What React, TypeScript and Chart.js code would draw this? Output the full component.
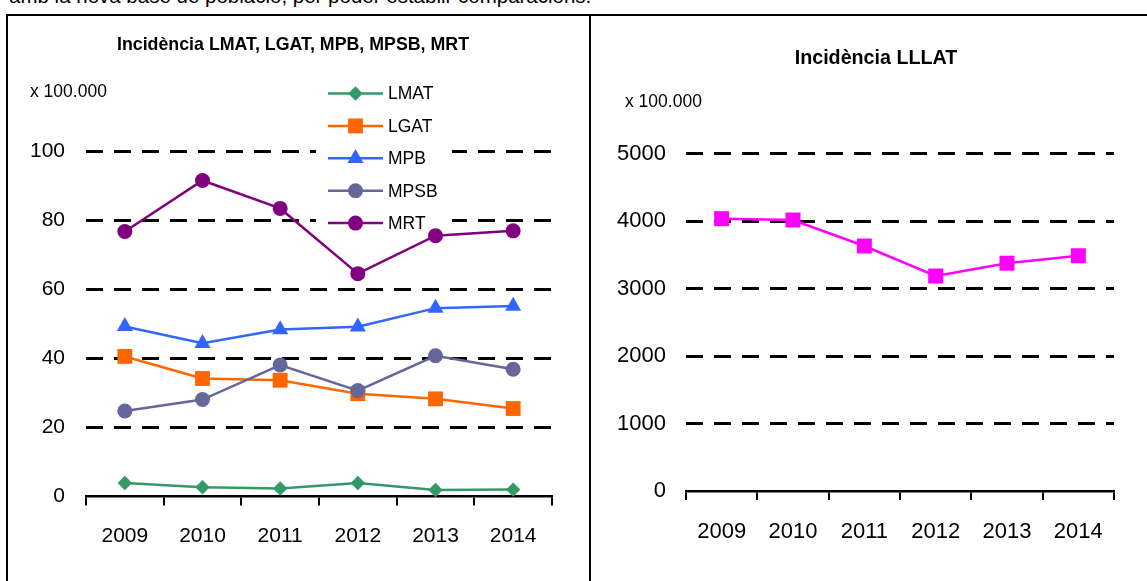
import React, { useEffect, useRef } from 'react';
import { Chart, registerables } from 'chart.js';

Chart.register(...registerables);

const FONT = '"Liberation Sans", Arial, sans-serif';

// ---- data ----
const years = ['2009', '2010', '2011', '2012', '2013', '2014'];
const lmatValues = [3.9, 2.7, 2.3, 3.9, 1.9, 2.0];
const lgatValues = [40.6, 34.2, 33.7, 29.8, 28.3, 25.5];
const mpbValues = [49.3, 44.4, 48.4, 49.2, 54.6, 55.2];
const mpsbValues = [24.8, 28.1, 38.1, 30.7, 40.8, 36.9];
const mrtValues = [76.8, 91.6, 83.5, 64.6, 75.6, 77.0];
const lllatValues = [4035, 4015, 3630, 3185, 3375, 3485];

const leftTickValues = [0, 20, 40, 60, 80, 100];
const rightTickValues = [0, 1000, 2000, 3000, 4000, 5000];

const seriesNames = ['LMAT', 'LGAT', 'MPB', 'MPSB', 'MRT'];
const seriesValues = [lmatValues, lgatValues, mpbValues, mpsbValues, mrtValues];
const seriesColors = ['#339966', '#FF6600', '#3366FF', '#666699', '#800080'];
const seriesMarkers = ['rectRot', 'rect', 'triangle', 'circle', 'circle'];
const seriesRadii = [7.2, 10.5, 9.3, 7.5, 7.5];

const lllatName = 'LLLAT';
const lllatColor = '#FF00FF';

const leftTitle = 'Incidència LMAT, LGAT, MPB, MPSB, MRT';
const rightTitle = 'Incidència LLLAT';
const unitLabel = 'x 100.000';
const introText = 'amb la nova base de població, per poder establir comparacions.';

// ---- helpers ----
function drawMarker(ctx: CanvasRenderingContext2D, style: string, x: number, y: number, r: number, color: string) {
  ctx.save();
  ctx.fillStyle = color;
  ctx.beginPath();
  if (style === 'circle') {
    ctx.arc(x, y, r, 0, Math.PI * 2);
  } else if (style === 'rect') {
    const s = r * Math.SQRT1_2;
    ctx.rect(x - s, y - s, 2 * s, 2 * s);
  } else if (style === 'rectRot') {
    ctx.moveTo(x - r, y);
    ctx.lineTo(x, y - r);
    ctx.lineTo(x + r, y);
    ctx.lineTo(x, y + r);
    ctx.closePath();
  } else if (style === 'triangle') {
    ctx.moveTo(x, y - r);
    ctx.lineTo(x + r * 0.866, y + r * 0.5);
    ctx.lineTo(x - r * 0.866, y + r * 0.5);
    ctx.closePath();
  }
  ctx.fill();
  ctx.restore();
}

// legend drawn inside the plot area (canvas coordinates of the left chart)
const insideLegend = {
  id: 'insideLegend',
  beforeDatasetsDraw(chart: any) {
    const ctx: CanvasRenderingContext2D = chart.ctx;
    ctx.save();
    ctx.fillStyle = '#ffffff';
    ctx.fillRect(307, 60, 136, 156);
    const rowStart = 77.5;
    const rowStep = 32.4;
    chart.data.datasets.forEach((ds: any, i: number) => {
      const y = rowStart + i * rowStep;
      ctx.strokeStyle = ds.borderColor;
      ctx.lineWidth = 2.5;
      ctx.beginPath();
      ctx.moveTo(319, y);
      ctx.lineTo(374, y);
      ctx.stroke();
      drawMarker(ctx, ds.pointStyle, 346.5, y, ds.pointRadius, ds.borderColor);
      ctx.fillStyle = '#000';
      ctx.font = `17.5px ${FONT}`;
      ctx.textBaseline = 'middle';
      ctx.textAlign = 'left';
      ctx.fillText(ds.label, 379, y + 1);
    });
    ctx.restore();
  },
};

function yGrid() {
  return {
    color: (c: any) => (c.tick && c.tick.value === 0 ? 'rgba(0,0,0,0)' : '#000'),
    lineWidth: 3,
    drawTicks: false,
  };
}

function xAxis(fontSize: number, pad: number, height: number) {
  return {
    type: 'category' as const,
    offset: true,
    grid: {
      offset: true,
      drawOnChartArea: false,
      drawTicks: true,
      tickLength: 9,
      color: '#000',
      lineWidth: 2,
    },
    border: { display: true, color: '#000', width: 2.5 },
    ticks: {
      color: '#000',
      font: { family: FONT, size: fontSize },
      padding: pad,
      autoSkip: false,
      maxRotation: 0,
    },
    afterFit: (s: any) => {
      s.height = height;
    },
  };
}

export default function App() {
  const leftRef = useRef<HTMLCanvasElement>(null);
  const rightRef = useRef<HTMLCanvasElement>(null);

  useEffect(() => {
    const left = new Chart(leftRef.current as HTMLCanvasElement, {
      type: 'line',
      data: {
        labels: years,
        datasets: seriesNames.map((name, i) => ({
          label: name,
          data: seriesValues[i],
          borderColor: seriesColors[i],
          backgroundColor: seriesColors[i],
          pointBackgroundColor: seriesColors[i],
          pointBorderColor: seriesColors[i],
          pointBorderWidth: 0,
          pointStyle: seriesMarkers[i] as any,
          pointRadius: seriesRadii[i],
          borderWidth: 2.5,
          tension: 0,
          order: seriesNames.length - 1 - i,
          clip: false as any,
        })),
      },
      options: {
        responsive: false,
        animation: false,
        devicePixelRatio: 1,
        events: [],
        layout: { padding: { left: 0, right: 25, top: 135.5, bottom: 0 } },
        plugins: {
          legend: { display: false },
          tooltip: { enabled: false },
          title: { display: false },
        },
        scales: {
          x: xAxis(21, 18.5, 84.5),
          y: {
            min: 0,
            max: 100,
            afterBuildTicks: (s: any) => {
              s.ticks = leftTickValues.map((v) => ({ value: v }));
            },
            grid: yGrid(),
            border: { display: false, dash: [17, 11] },
            ticks: {
              color: '#000',
              font: { family: FONT, size: 21 },
              padding: 21,
              callback: (v: any) => String(v),
            },
            afterFit: (s: any) => {
              s.width = 77;
            },
          },
        },
      },
      plugins: [insideLegend],
    });

    const right = new Chart(rightRef.current as HTMLCanvasElement, {
      type: 'line',
      data: {
        labels: years,
        datasets: [
          {
            label: lllatName,
            data: lllatValues,
            borderColor: lllatColor,
            backgroundColor: lllatColor,
            pointBackgroundColor: lllatColor,
            pointBorderColor: lllatColor,
            pointBorderWidth: 0,
            pointStyle: 'rect',
            pointRadius: 10.6,
            borderWidth: 2.5,
            tension: 0,
            clip: false as any,
          },
        ],
      },
      options: {
        responsive: false,
        animation: false,
        devicePixelRatio: 1,
        events: [],
        layout: { padding: { left: 0, right: 33, top: 137.5, bottom: 0 } },
        plugins: {
          legend: { display: false },
          tooltip: { enabled: false },
          title: { display: false },
        },
        scales: {
          x: xAxis(22, 18.6, 90),
          y: {
            min: 0,
            max: 5000,
            afterBuildTicks: (s: any) => {
              s.ticks = rightTickValues.map((v) => ({ value: v }));
            },
            grid: yGrid(),
            border: { display: false, dash: [17, 11] },
            ticks: {
              color: '#000',
              font: { family: FONT, size: 22 },
              padding: 20,
              callback: (v: any) => String(v),
            },
            afterFit: (s: any) => {
              s.width = 81;
            },
          },
        },
      },
    });

    return () => {
      left.destroy();
      right.destroy();
    };
  }, []);

  return (
    <div
      style={{
        position: 'absolute',
        left: 0,
        top: 0,
        width: 1147,
        height: 581,
        overflow: 'hidden',
        background: '#fff',
        fontFamily: FONT,
        color: '#000',
      }}
    >
      <div style={{ position: 'absolute', left: 9, top: -17, fontSize: 20.5, lineHeight: '25px', whiteSpace: 'nowrap' }}>
        {introText}
      </div>
      <div
        style={{
          position: 'absolute',
          left: 6,
          top: 14,
          width: 581,
          height: 600,
          borderLeft: '2px solid #000',
          borderTop: '2px solid #000',
          borderRight: '2px solid #000',
        }}
      />
      <div style={{ position: 'absolute', left: 591, top: 14, width: 600, height: 600, borderTop: '2px solid #000' }} />
      <canvas
        ref={leftRef}
        width={568}
        height={565}
        style={{ position: 'absolute', left: 9, top: 16, width: 568, height: 565 }}
      />
      <canvas
        ref={rightRef}
        width={542}
        height={565}
        style={{ position: 'absolute', left: 605, top: 16, width: 542, height: 565 }}
      />
      <div
        style={{
          position: 'absolute',
          left: 293 - 250,
          width: 500,
          top: 33.5,
          textAlign: 'center',
          fontSize: 17.8,
          fontWeight: 'bold',
          lineHeight: '21px',
          whiteSpace: 'nowrap',
        }}
      >
        {leftTitle}
      </div>
      <div
        style={{
          position: 'absolute',
          left: 876 - 150,
          width: 300,
          top: 45.5,
          textAlign: 'center',
          fontSize: 19.7,
          fontWeight: 'bold',
          lineHeight: '23px',
          whiteSpace: 'nowrap',
        }}
      >
        {rightTitle}
      </div>
      <div style={{ position: 'absolute', left: 30, top: 80, fontSize: 17.5, lineHeight: '22px', whiteSpace: 'nowrap' }}>
        {unitLabel}
      </div>
      <div style={{ position: 'absolute', left: 625, top: 90, fontSize: 17.5, lineHeight: '22px', whiteSpace: 'nowrap' }}>
        {unitLabel}
      </div>
    </div>
  );
}
